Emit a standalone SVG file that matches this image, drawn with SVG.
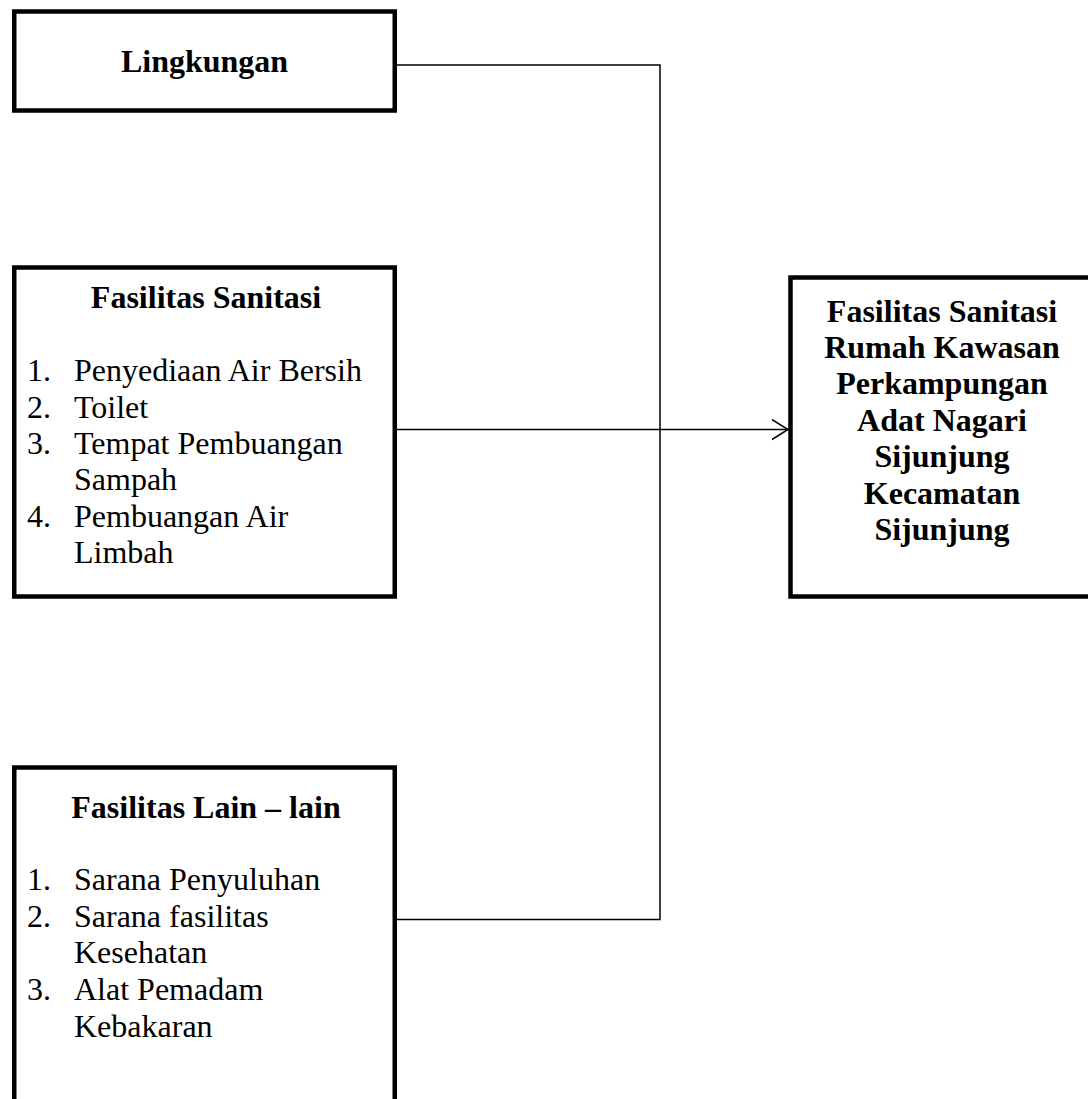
<svg xmlns="http://www.w3.org/2000/svg" width="1088" height="1099" viewBox="0 0 1088 1099">
<style>
.box{fill:#fff;stroke:#000;stroke-width:4.5}
.t{font-family:"Liberation Serif","Times New Roman",serif;font-size:32px;fill:#000}
.b{font-weight:bold;text-anchor:middle}
.c{fill:none;stroke:#000;stroke-width:1.5}
</style>
<defs>
<marker id="arr" markerUnits="userSpaceOnUse" markerWidth="20" markerHeight="24" refX="17" refY="11" orient="auto">
<path d="M1,1 L17,11 L1,21" fill="none" stroke="#000" stroke-width="1.5"/>
</marker>
</defs>
<rect width="1088" height="1099" fill="#fff"/>
<g id="lingkungan">
<rect class="box" x="14.25" y="11.5" width="380.5" height="99"/>
<text class="t b" x="204.5" y="72">Lingkungan</text>
</g>
<g id="sanitasi">
<rect class="box" x="14.25" y="267.5" width="380.5" height="329"/>
<text class="t b" x="206" y="308">Fasilitas Sanitasi</text>
<text class="t" x="27" y="381">1.</text><text class="t" x="74" y="381">Penyediaan Air Bersih</text>
<text class="t" x="27" y="417.5">2.</text><text class="t" x="74" y="417.5">Toilet</text>
<text class="t" x="27" y="454">3.</text><text class="t" x="74" y="454">Tempat Pembuangan</text>
<text class="t" x="74" y="490">Sampah</text>
<text class="t" x="27" y="526.5">4.</text><text class="t" x="74" y="526.5">Pembuangan Air</text>
<text class="t" x="74" y="563">Limbah</text>
</g>
<g id="lain">
<rect class="box" x="14.25" y="767.5" width="380.5" height="400"/>
<text class="t b" x="206" y="818">Fasilitas Lain – lain</text>
<text class="t" x="27" y="890">1.</text><text class="t" x="74" y="890">Sarana Penyuluhan</text>
<text class="t" x="27" y="927">2.</text><text class="t" x="74" y="927">Sarana fasilitas</text>
<text class="t" x="74" y="963">Kesehatan</text>
<text class="t" x="27" y="1000">3.</text><text class="t" x="74" y="1000">Alat Pemadam</text>
<text class="t" x="74" y="1037">Kebakaran</text>
</g>
<g id="hasil">
<rect class="box" x="790.5" y="277.5" width="400" height="319"/>
<text class="t b" x="942" y="322">Fasilitas Sanitasi</text>
<text class="t b" x="942" y="358">Rumah Kawasan</text>
<text class="t b" x="942" y="394">Perkampungan</text>
<text class="t b" x="942" y="430.5">Adat Nagari</text>
<text class="t b" x="942" y="467">Sijunjung</text>
<text class="t b" x="942" y="504">Kecamatan</text>
<text class="t b" x="942" y="540">Sijunjung</text>
</g>
<g id="connectors">
<polyline class="c" points="396.8,65 660,65 660,919.5 396.8,919.5"/>
<line class="c" x1="396.8" y1="429.5" x2="788" y2="429.5" marker-end="url(#arr)"/>
</g>
</svg>
